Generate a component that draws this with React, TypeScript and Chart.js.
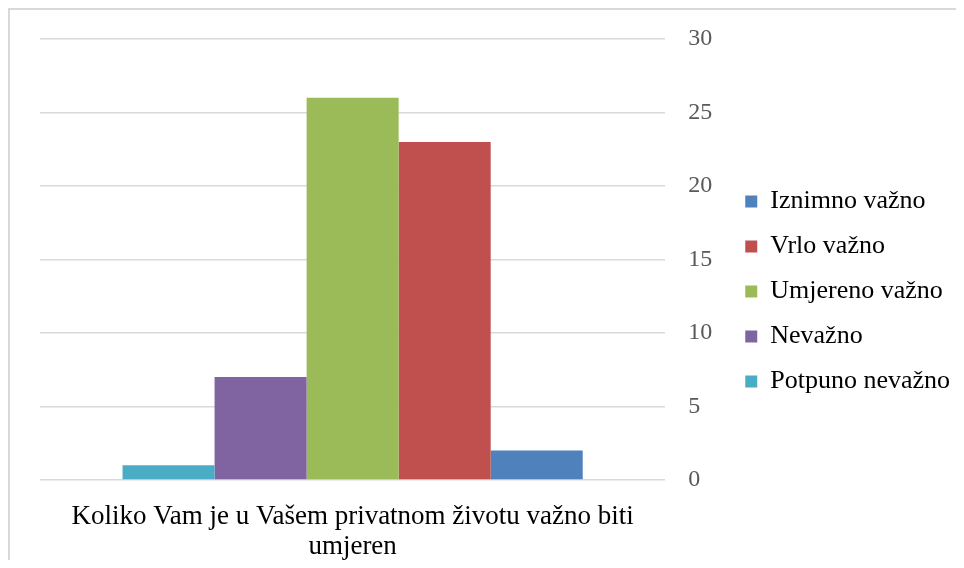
import React, { useEffect, useRef } from "react";
import { Chart, registerables } from "chart.js";

Chart.register(...registerables);

const categories: string[][] = [["Koliko Vam je u Vašem privatnom životu važno biti", "umjeren"]];
const seriesNames = ["Potpuno nevažno", "Nevažno", "Umjereno važno", "Vrlo važno", "Iznimno važno"];
const potpunoNevazno = [1];
const nevazno = [7];
const umjerenoVazno = [26];
const vrloVazno = [23];
const iznimnoVazno = [2];
const seriesColors = ["#4BACC6", "#8064A2", "#9BBB59", "#C0504D", "#4F81BD"];
const yTicks = { min: 0, max: 30, step: 5 };

export default function App() {
  const ref = useRef<HTMLCanvasElement>(null);
  useEffect(() => {
    if (!ref.current) return;
    const values = [potpunoNevazno, nevazno, umjerenoVazno, vrloVazno, iznimnoVazno];
    const font = "'Liberation Serif', 'Times New Roman', serif";
    const chart = new Chart(ref.current, {
      type: "bar",
      data: {
        labels: categories as any,
        datasets: values.map((v, i) => ({
          label: seriesNames[i],
          data: v,
          backgroundColor: seriesColors[i],
          borderWidth: 0,
          barPercentage: 1,
          categoryPercentage: 0.736,
        })),
      },
      options: {
        responsive: false,
        animation: false,
        layout: { padding: { left: 30, top: 0, right: 9, bottom: 0 } },
        plugins: {
          tooltip: { enabled: false },
          legend: {
            position: "right",
            reverse: true,
            labels: {
              boxWidth: 12,
              boxHeight: 12,
              padding: 19,
              color: "#000",
              font: { family: font, size: 26 },
            },
          },
        },
        scales: {
          x: {
            grid: { display: false, drawTicks: false },
            border: { display: false },
            ticks: { color: "#000", font: { family: font, size: 27, lineHeight: 1.12 }, padding: 22, maxRotation: 0 },
            afterFit: (s: any) => { s.height = 93; },
          },
          y: {
            position: "right",
            min: yTicks.min,
            max: yTicks.max,
            grid: { color: "#d9d9d9", lineWidth: 1.5, drawTicks: false },
            border: { display: false },
            ticks: { stepSize: yTicks.step, color: "#595959", padding: 23, font: { family: font, size: 24, lineHeight: 0.5 } },
            afterFit: (s: any) => { s.width = 61; },
          },
        },
      },
    });
    return () => chart.destroy();
  }, []);
  return (
    <div style={{ width: 956, height: 552, overflow: "hidden" }}>
      <div style={{ width: 1000, height: 600, border: "2px solid #d9d9d9", boxSizing: "border-box" }}>
        <canvas ref={ref} width={954} height={563} style={{ display: "block", width: 954, height: 563 }} />
      </div>
    </div>
  );
}
